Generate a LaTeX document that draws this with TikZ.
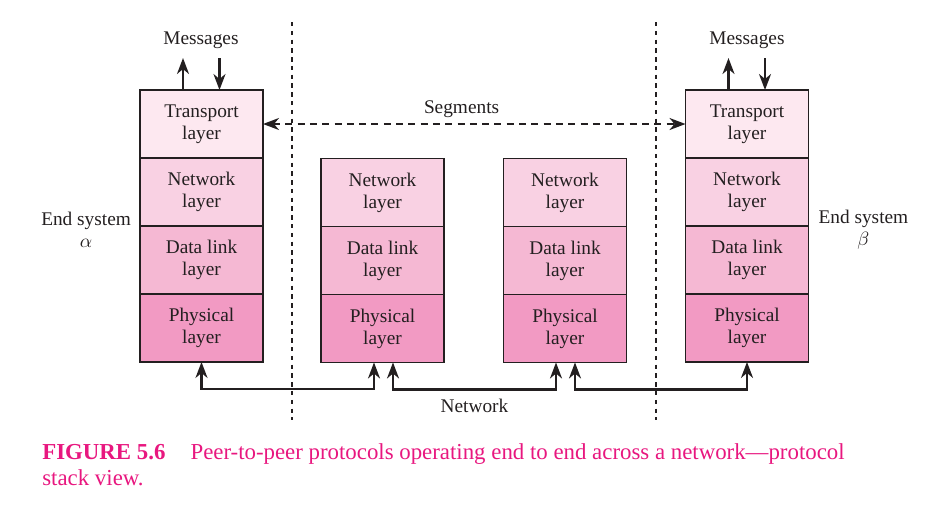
\documentclass[tikz,border=0pt]{standalone}
\usepackage{fontspec}
\setmainfont{Liberation Serif}
\usepackage{xcolor}
\usetikzlibrary{positioning, arrows.meta}

\definecolor{transfill}{HTML}{FDE8F0}
\definecolor{netfill}{HTML}{F9D1E3}
\definecolor{linkfill}{HTML}{F5B8D3}
\definecolor{physfill}{HTML}{F29AC3}
\definecolor{inkline}{HTML}{231F20}
\definecolor{capmag}{HTML}{E8177F}

\begin{document}
\begin{tikzpicture}[x=0.02cm, y=-0.02cm,
  lbl/.style={font=\fontsize{11}{12.5}\selectfont, align=center, inner sep=1pt, text=inkline},
  box/.style={lbl, draw=inkline, line width=0.8pt, minimum width=2.46cm, minimum height=1.36cm, inner sep=0pt, outer sep=0pt},
  trans/.style={box, fill=transfill},
  netw/.style={box, fill=netfill},
  link/.style={box, fill=linkfill},
  phys/.style={box, fill=physfill},
  arrow/.style={-{Stealth[length=3.2mm, width=2.4mm, inset=1mm]}, line width=1.3pt, draw=inkline},
  biarrow/.style={{Stealth[length=3.2mm, width=2.4mm, inset=1mm]}-{Stealth[length=3.2mm, width=2.4mm, inset=1mm]}, line width=1.3pt, draw=inkline},
  dashline/.style={dash pattern=on 4pt off 3pt},
  sepline/.style={draw=inkline, line width=0.7pt, dash pattern=on 2.5pt off 2.5pt},
  capt/.style={font=\fontsize{13}{14.6}\selectfont, text=capmag, align=left, inner sep=0pt}]

  \useasboundingbox (0,0) rectangle (937,508);

  % end system alpha
  \node[trans] (at) at (201.5,124) {Transport\\layer};
  \node[netw, below=0pt of at] (an) {Network\\layer};
  \node[link, below=0pt of an] (ad) {Data link\\layer};
  \node[phys, below=0pt of ad] (ap) {Physical\\layer};

  % first router
  \node[netw] (cn) at (382.5,192.5) {Network\\layer};
  \node[link, below=0pt of cn] (cd) {Data link\\layer};
  \node[phys, below=0pt of cd] (cp) {Physical\\layer};

  % second router
  \node[netw] (dn) at (565,192.5) {Network\\layer};
  \node[link, below=0pt of dn] (dd) {Data link\\layer};
  \node[phys, below=0pt of dd] (dp) {Physical\\layer};

  % end system beta
  \node[trans] (bt) at (747,124) {Transport\\layer};
  \node[netw, below=0pt of bt] (bn) {Network\\layer};
  \node[link, below=0pt of bn] (bd) {Data link\\layer};
  \node[phys, below=0pt of bd] (bp) {Physical\\layer};

  \node[lbl, left=0.14cm of an.south west, yshift=-2pt] (asys) {End system\\$\alpha$};
  \node[lbl, right=0.16cm of bn.south east, yshift=-2pt] (bsys) {End system\\$\beta$};

  \node[lbl] (amsg) at (201,40) {Messages};
  \node[lbl] (bmsg) at (747,40) {Messages};

  \draw[arrow] ([xshift=-0.37cm]at.north) -- ([xshift=-0.37cm, yshift=0.64cm]at.north);
  \draw[arrow] ([xshift=0.36cm, yshift=0.64cm]at.north) -- ([xshift=0.36cm]at.north);
  \draw[arrow] ([xshift=-0.37cm]bt.north) -- ([xshift=-0.37cm, yshift=0.64cm]bt.north);
  \draw[arrow] ([xshift=0.36cm, yshift=0.64cm]bt.north) -- ([xshift=0.36cm]bt.north);

  % boundaries
  \draw[sepline] (292,22) -- (292,420);
  \draw[sepline] (656,22) -- (656,420);

  \draw[biarrow, dashline] (at.east) -- node[pos=0.47, above=2pt, lbl] (seg) {Segments} (bt.west);

  \draw[biarrow] (ap.south) -- ++(0,27) -| ([xshift=-0.17cm]cp.south);
  \draw[biarrow] ([xshift=0.21cm]cp.south) -- ++(0,27)
    -| node[pos=0.25, below=4pt, lbl] (net) {Network} ([xshift=-0.18cm]dp.south);
  \draw[biarrow] ([xshift=0.2cm]dp.south) -- ++(0,27) -| (bp.south);

  \node[capt, anchor=west] (cap) at (42,465)
    {\textbf{FIGURE 5.6}\hspace{1.1em}Peer-to-peer protocols operating end to end across a network---protocol\\stack view.};
\end{tikzpicture}
\end{document}
